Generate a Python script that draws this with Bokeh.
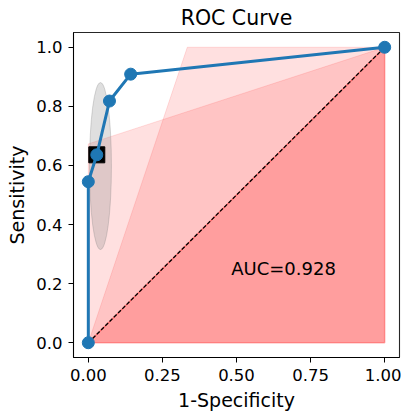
from bokeh.plotting import figure
from bokeh.models import FixedTicker, PrintfTickFormatter, Label
from bokeh.embed import file_html
from bokeh.resources import INLINE

# ROC data
fpr = [0.0, 0.0, 0.0286, 0.0714, 0.1429, 1.0]
tpr = [0.0, 0.545, 0.636, 0.818, 0.909, 1.0]
best_point = (0.0286, 0.636)
auc_text = "AUC=0.928"

# shaded regions
region_a_x = [0.0, 0.334, 1.0]
region_a_y = [0.0, 1.0, 1.0]
region_b_x = [0.0, 0.0, 1.0]
region_b_y = [0.0, 0.673, 1.0]
region_c_x = [0.0, 1.0, 1.0]
region_c_y = [0.0, 0.0, 1.0]

# uncertainty ellipse
ell_center = (0.041, 0.598)
ell_size = (0.074, 0.565)

x_ticks = [0.0, 0.25, 0.5, 0.75, 1.0]
y_ticks = [0.0, 0.2, 0.4, 0.6, 0.8, 1.0]

FONT = "DejaVu Sans"

p = figure(width=401, height=416, x_range=(-0.05, 1.05), y_range=(-0.05, 1.05),
           output_backend="svg", toolbar_location=None, title="ROC Curve",
           min_border_left=73, min_border_right=2, min_border_top=32, min_border_bottom=59)

p.title.align = "center"
p.title.text_font = FONT
p.title.text_font_size = "20.5px"
p.title.text_font_style = "normal"
p.title.text_color = "black"
p.title.standoff = 5
p.title.offset = 0

p.grid.visible = False
p.outline_line_color = "black"
p.outline_line_width = 1.1
p.outline_line_alpha = 0.85

for ax in (p.xaxis[0], p.yaxis[0]):
    ax.major_label_text_font = FONT
    ax.major_label_text_font_size = "16.5px"
    ax.major_label_text_color = "black"
    ax.axis_label_text_font = FONT
    ax.axis_label_text_font_size = "19px"
    ax.axis_label_text_font_style = "normal"
    ax.axis_label_text_color = "black"
    ax.major_tick_out = 5
    ax.major_tick_in = 0
    ax.minor_tick_out = 0
    ax.minor_tick_in = 0
    ax.axis_line_color = "black"
    ax.major_tick_line_color = "black"

p.xaxis.ticker = FixedTicker(ticks=x_ticks)
p.yaxis.ticker = FixedTicker(ticks=y_ticks)
p.xaxis.formatter = PrintfTickFormatter(format="%.2f")
p.yaxis.formatter = PrintfTickFormatter(format="%.1f")
p.xaxis.axis_label = "1-Specificity"
p.yaxis.axis_label = "Sensitivity"
p.xaxis.major_label_standoff = 6
p.yaxis.major_label_standoff = 6
p.xaxis.axis_label_standoff = 5
p.yaxis.axis_label_standoff = 5

# shaded regions
p.patch(region_a_x, region_a_y, fill_color="#ff0000", fill_alpha=0.12,
        line_color="#ff0000", line_alpha=0.12, line_width=1)
p.patch(region_b_x, region_b_y, fill_color="#ff0000", fill_alpha=0.12,
        line_color="#ff0000", line_alpha=0.12, line_width=1)
p.patch(region_c_x, region_c_y, fill_color="#ff0000", fill_alpha=0.38,
        line_color="#ff0000", line_alpha=0.3, line_width=1.5)

# chance line
p.line([0, 1], [0, 1], line_color="black", line_width=1.3, line_dash="4 2")

# ellipse
p.ellipse(x=[ell_center[0]], y=[ell_center[1]], width=[ell_size[0]], height=[ell_size[1]],
          fill_color="gray", fill_alpha=0.25, line_color="gray", line_alpha=0.3)

# best point
p.scatter([best_point[0]], [best_point[1]], marker="square", size=16,
          fill_color="black", line_color="black")

# ROC curve
p.line(fpr, tpr, line_color="#1f77b4", line_width=3)
p.scatter(fpr, tpr, marker="circle", size=12, fill_color="#1f77b4", line_color="#1f77b4")

p.add_layout(Label(x=0.482, y=0.25, text=auc_text, text_font=FONT, text_font_size="18px",
                   text_color="black", text_baseline="alphabetic", text_align="left"))

open("out.html", "w").write(file_html(p, INLINE))
